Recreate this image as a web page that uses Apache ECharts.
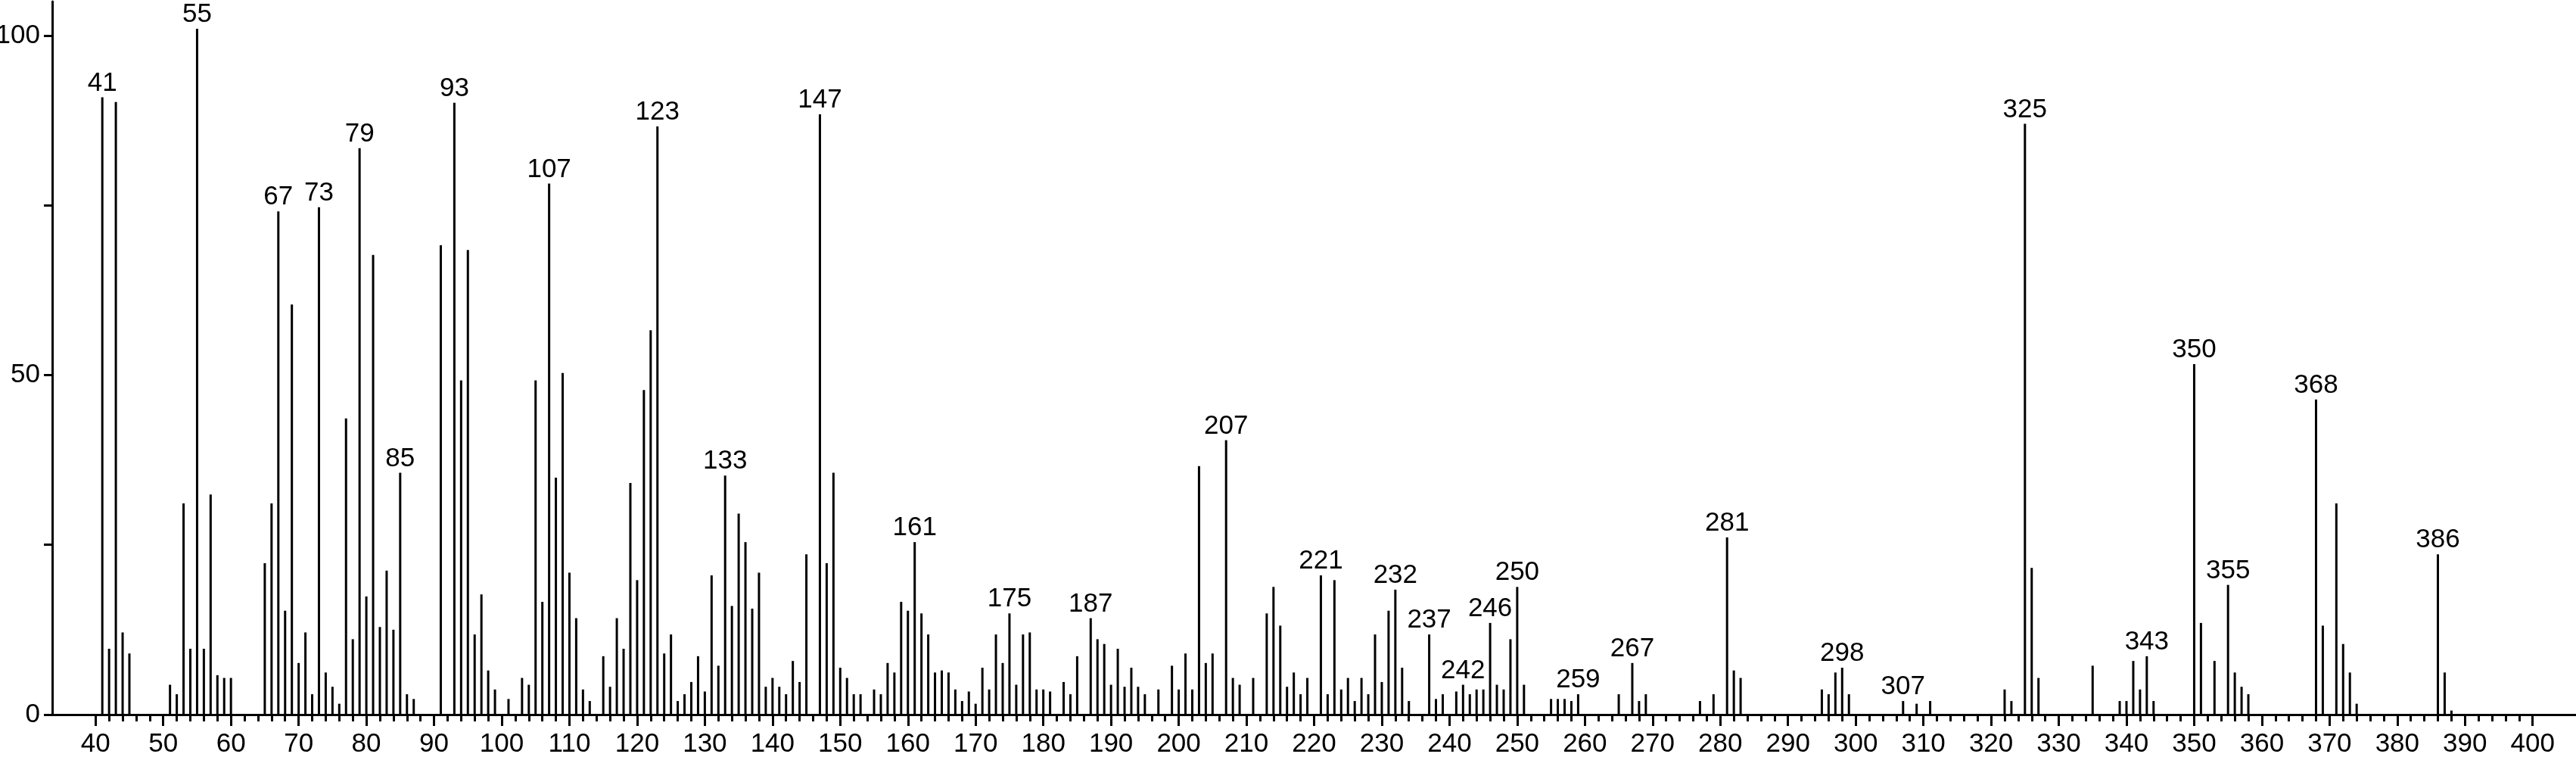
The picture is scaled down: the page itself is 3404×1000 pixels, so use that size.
<!DOCTYPE html>
<html><head><meta charset="utf-8">
<script src="https://cdn.jsdelivr.net/npm/echarts@6/dist/echarts.min.js"></script>
<style>html,body{margin:0;padding:0;background:#fff}#c{width:3404px;height:1000px}</style>
</head><body><div id="c"></div>
<script>
// m/z values (categories)
const mz = [41,42,43,44,45,51,52,53,54,55,56,57,58,59,60,65,66,67,68,69,70,71,72,73,74,75,76,77,78,79,80,81,82,83,84,85,86,87,
91,93,94,95,96,97,98,99,101,103,104,105,106,107,108,109,110,111,112,113,115,116,117,118,119,120,121,122,123,124,125,126,127,128,129,130,
131,132,133,134,135,136,137,138,139,140,141,142,143,144,145,147,148,149,150,151,152,153,155,156,157,158,159,160,161,162,163,164,165,166,
167,168,169,170,171,172,173,174,175,176,177,178,179,180,181,183,184,185,187,188,189,190,191,192,193,194,195,197,199,200,201,202,203,204,
205,207,208,209,211,213,214,215,216,217,218,219,221,222,223,224,225,226,227,228,229,230,231,232,233,234,237,238,239,241,242,243,244,245,
246,247,248,249,250,251,255,256,257,258,259,265,267,268,269,277,279,281,282,283,295,296,297,298,299,307,309,311,322,323,325,326,327,335,
339,340,341,342,343,344,350,351,353,355,356,357,358,368,369,371,372,373,374,386,387,388];
// relative intensities
const intensity = [90.9,9.7,90.2,12.1,9.0,4.4,3.0,31.1,9.7,101,9.7,32.4,5.8,5.4,5.4,22.3,31.1,74.1,15.3,60.4,7.6,12.1,3.0,74.7,6.2,4.1,1.6,43.6,11.1,83.4,17.4,67.7,12.9,21.2,12.5,35.6,3.0,2.3,
69.1,90.1,49.2,68.4,11.8,17.7,6.5,3.7,2.3,5.4,4.4,49.2,16.6,78.2,34.9,50.3,20.9,14.2,3.7,2.0,8.6,4.1,14.2,9.7,34.1,19.8,47.8,56.6,86.6,9.0,11.8,2.0,3.0,4.8,8.6,3.4,
20.5,7.2,35.2,16.0,29.6,25.4,15.6,20.9,4.1,5.4,4.1,3.0,7.9,4.8,23.6,88.4,22.3,35.6,6.9,5.4,3.0,3.0,3.7,3.0,7.6,6.2,16.6,15.3,25.4,14.9,11.8,6.2,6.5,6.2,
3.7,2.0,3.4,1.6,6.9,3.7,11.8,7.6,14.9,4.4,11.8,12.1,3.7,3.7,3.4,4.8,3.0,8.6,14.2,11.1,10.4,4.4,9.7,4.1,6.9,4.1,3.0,3.7,7.2,3.7,9.0,3.7,36.6,7.6,
9.0,40.4,5.4,4.4,5.4,14.9,18.8,13.1,4.1,6.2,3.0,5.4,20.5,3.0,19.8,3.7,5.4,2.0,5.4,3.0,11.8,4.8,15.3,18.4,6.9,2.0,11.8,2.3,3.0,3.4,4.4,3.0,3.7,3.7,
13.5,4.4,3.7,11.1,18.8,4.4,2.3,2.3,2.3,2.0,3.0,3.0,7.6,2.0,3.0,2.0,3.0,26.1,6.5,5.4,3.7,3.0,6.2,6.9,3.0,2.0,1.6,2.0,3.7,2.0,87.0,21.6,5.4,7.2,
2.0,2.0,7.9,3.7,8.6,2.0,51.6,13.5,7.9,19.1,6.2,4.1,3.0,46.4,13.1,31.1,10.4,6.2,1.6,23.6,6.2,0.6];
// peaks carrying an m/z label
const labeledPeaks = [41,55,67,73,79,85,93,107,123,133,147,161,175,187,207,221,232,237,242,246,250,259,267,281,298,307,325,343,350,355,368,386];
// axis ticks / labels
const xMajorTicks = [40,50,60,70,80,90,100,110,120,130,140,150,160,170,180,190,200,210,220,230,240,250,260,270,280,290,300,310,320,330,340,350,360,370,380,390,400];
const xMinorTicks = [];
for (let v = 40; v < 400; v += 2) { if (v % 10 !== 0) xMinorTicks.push(v); }
const yTicks = [0,25,50,75,100];
const yLabels = [0,50,100];

const FONT = 'Liberation Sans';
const chart = echarts.init(document.getElementById('c'));
const data = mz.map((m, i) => ({ value: [m, intensity[i]], label: { show: labeledPeaks.indexOf(m) >= 0 } }));
chart.setOption({
  animation: false,
  backgroundColor: '#fff',
  grid: { left: 69, right: 0, top: 2, bottom: 56, containLabel: false, outerBoundsMode: 'none' },
  xAxis: [{
    type: 'value', min: 33.6, max: 406.4, position: 'bottom',
    axisLine: { show: true, onZero: false, lineStyle: { color: '#000', width: 3 } },
    axisTick: { show: true, customValues: xMajorTicks, length: 15, lineStyle: { color: '#000', width: 3 } },
    axisLabel: { show: true, customValues: xMajorTicks, margin: 22, fontSize: 35, color: '#000', fontFamily: FONT },
    splitLine: { show: false }
  }, {
    type: 'value', min: 33.6, max: 406.4, position: 'bottom',
    axisLine: { show: false, onZero: false },
    axisTick: { show: true, customValues: xMinorTicks, length: 9, lineStyle: { color: '#000', width: 3 } },
    axisLabel: { show: false },
    splitLine: { show: false }
  }],
  yAxis: {
    type: 'value', min: 0, max: 105,
    axisLine: { show: true, lineStyle: { color: '#000', width: 3 } },
    axisTick: { show: true, customValues: yTicks, length: 11, lineStyle: { color: '#000', width: 3 } },
    axisLabel: { show: true, customValues: yLabels, margin: 16, fontSize: 35, color: '#000', fontFamily: FONT },
    splitLine: { show: false }
  },
  series: [{
    type: 'bar', xAxisIndex: 0, yAxisIndex: 0, barWidth: 3,
    itemStyle: { color: '#000' },
    label: { position: 'top', distance: 1, fontSize: 35, color: '#000', fontFamily: FONT,
      formatter: p => String(p.value[0]) },
    data: data
  }]
});
</script></body></html>
